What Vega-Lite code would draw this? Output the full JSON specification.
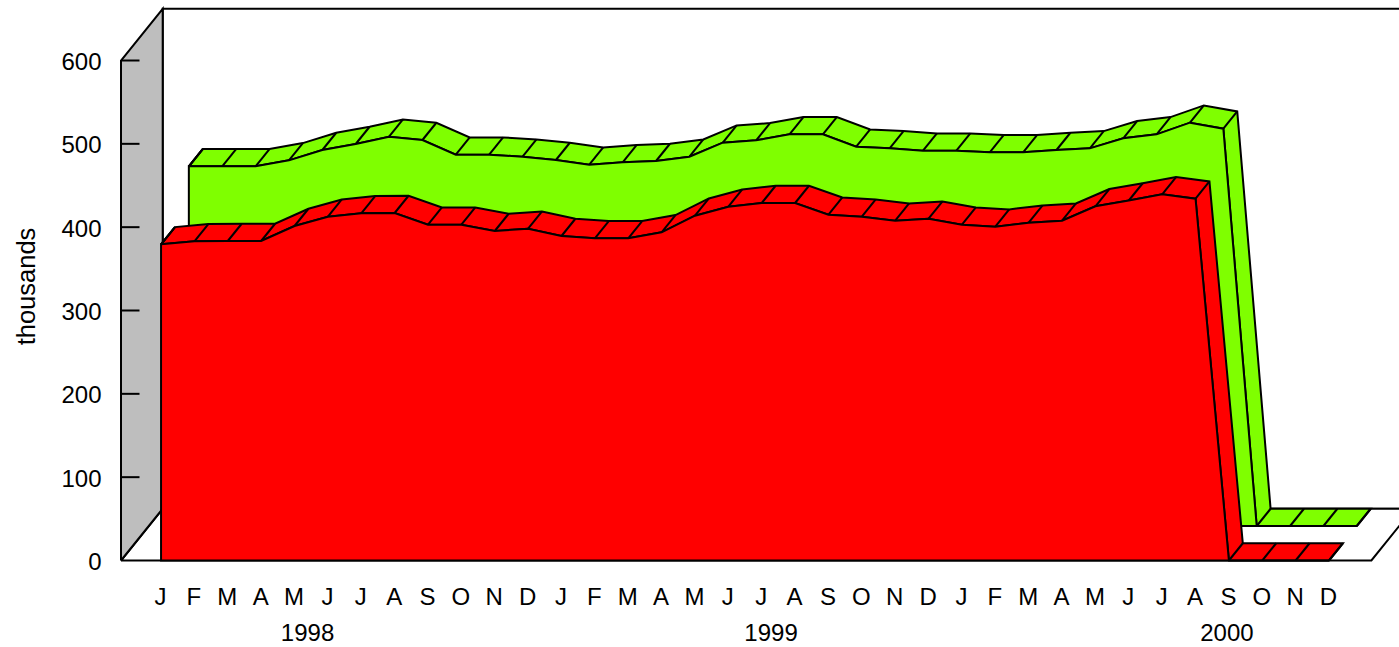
{"$schema":"https://vega.github.io/schema/vega-lite/v6.json","autosize":{"type":"none"},"width":1278,"height":500,"padding":{"left":121,"top":60.5,"right":0,"bottom":86.5},"background":"white","config":{"view":{"stroke":null},"font":"Liberation Sans"},
"datasets":{
"frame":[{"s":"back","d":3,"m":-1.2,"v":0},{"s":"back","d":3,"m":-1.2,"v":600},{"s":"back","d":3,"m":36.27,"v":600},{"s":"back","d":3,"m":36.27,"v":0},{"s":"back","d":3,"m":-1.2,"v":0},{"s":"floor","d":0,"m":-1.2,"v":0},{"s":"floor","d":0,"m":36.27,"v":0},{"s":"floor","d":3,"m":36.27,"v":0},{"s":"floor","d":3,"m":-1.2,"v":0},{"s":"floor","d":0,"m":-1.2,"v":0}],
"wall":[{"s":"wall","d":0,"m":-1.2,"v":0},{"s":"wall","d":0,"m":-1.2,"v":600},{"s":"wall","d":3,"m":-1.2,"v":600},{"s":"wall","d":3,"m":-1.2,"v":0},{"s":"wall","d":0,"m":-1.2,"v":0}],
"ticks":[{"m":-1.2,"v":100},{"m":-1.2,"v":200},{"m":-1.2,"v":300},{"m":-1.2,"v":400},{"m":-1.2,"v":500},{"m":-1.2,"v":600}],
"green":[{"d":2,"m":0,"v":431.6},{"d":2,"m":1,"v":431.6},{"d":2,"m":2,"v":431.6},{"d":2,"m":3,"v":438.8},{"d":2,"m":4,"v":451.2},{"d":2,"m":5,"v":458.4},{"d":2,"m":6,"v":467.2},{"d":2,"m":7,"v":463.2},{"d":2,"m":8,"v":445.6},{"d":2,"m":9,"v":445.6},{"d":2,"m":10,"v":443.2},{"d":2,"m":11,"v":439.2},{"d":2,"m":12,"v":433.6},{"d":2,"m":13,"v":436.4},{"d":2,"m":14,"v":438},{"d":2,"m":15,"v":443.2},{"d":2,"m":16,"v":460},{"d":2,"m":17,"v":462.8},{"d":2,"m":18,"v":470},{"d":2,"m":19,"v":470},{"d":2,"m":20,"v":455.2},{"d":2,"m":21,"v":453.2},{"d":2,"m":22,"v":450.4},{"d":2,"m":23,"v":450.4},{"d":2,"m":24,"v":448.4},{"d":2,"m":25,"v":448.4},{"d":2,"m":26,"v":451.2},{"d":2,"m":27,"v":453.2},{"d":2,"m":28,"v":465.2},{"d":2,"m":29,"v":470},{"d":2,"m":30,"v":484},{"d":2,"m":31,"v":476.8},{"d":2,"m":32,"v":0},{"d":2,"m":33,"v":0},{"d":2,"m":34,"v":0},{"d":2,"m":35,"v":0},
{"d":3,"m":35,"v":0},{"d":3,"m":34,"v":0},{"d":3,"m":33,"v":0},{"d":3,"m":32,"v":0},{"d":3,"m":31,"v":476.8},{"d":3,"m":30,"v":484},{"d":3,"m":29,"v":470},{"d":3,"m":28,"v":465.2},{"d":3,"m":27,"v":453.2},{"d":3,"m":26,"v":451.2},{"d":3,"m":25,"v":448.4},{"d":3,"m":24,"v":448.4},{"d":3,"m":23,"v":450.4},{"d":3,"m":22,"v":450.4},{"d":3,"m":21,"v":453.2},{"d":3,"m":20,"v":455.2},{"d":3,"m":19,"v":470},{"d":3,"m":18,"v":470},{"d":3,"m":17,"v":462.8},{"d":3,"m":16,"v":460},{"d":3,"m":15,"v":443.2},{"d":3,"m":14,"v":438},{"d":3,"m":13,"v":436.4},{"d":3,"m":12,"v":433.6},{"d":3,"m":11,"v":439.2},{"d":3,"m":10,"v":443.2},{"d":3,"m":9,"v":445.6},{"d":3,"m":8,"v":445.6},{"d":3,"m":7,"v":463.2},{"d":3,"m":6,"v":467.2},{"d":3,"m":5,"v":458.4},{"d":3,"m":4,"v":451.2},{"d":3,"m":3,"v":438.8},{"d":3,"m":2,"v":431.6},{"d":3,"m":1,"v":431.6},{"d":3,"m":0,"v":431.6},{"d":2,"m":0,"v":431.6}],
"red":[{"d":0,"m":0,"v":379.4},{"d":0,"m":1,"v":383},{"d":0,"m":2,"v":383.4},{"d":0,"m":3,"v":383.4},{"d":0,"m":4,"v":401.4},{"d":0,"m":5,"v":412.6},{"d":0,"m":6,"v":416.6},{"d":0,"m":7,"v":417},{"d":0,"m":8,"v":403},{"d":0,"m":9,"v":403},{"d":0,"m":10,"v":395.4},{"d":0,"m":11,"v":398.2},{"d":0,"m":12,"v":389.4},{"d":0,"m":13,"v":386.6},{"d":0,"m":14,"v":386.6},{"d":0,"m":15,"v":393.8},{"d":0,"m":16,"v":413.8},{"d":0,"m":17,"v":424.6},{"d":0,"m":18,"v":429},{"d":0,"m":19,"v":429},{"d":0,"m":20,"v":415},{"d":0,"m":21,"v":412.6},{"d":0,"m":22,"v":407.8},{"d":0,"m":23,"v":410.2},{"d":0,"m":24,"v":403},{"d":0,"m":25,"v":400.6},{"d":0,"m":26,"v":405.4},{"d":0,"m":27,"v":407.8},{"d":0,"m":28,"v":425},{"d":0,"m":29,"v":432},{"d":0,"m":30,"v":439.4},{"d":0,"m":31,"v":434.2},{"d":0,"m":32,"v":0},{"d":0,"m":33,"v":0},{"d":0,"m":34,"v":0},{"d":0,"m":35,"v":0},
{"d":1,"m":35,"v":0},{"d":1,"m":34,"v":0},{"d":1,"m":33,"v":0},{"d":1,"m":32,"v":0},{"d":1,"m":31,"v":434.2},{"d":1,"m":30,"v":439.4},{"d":1,"m":29,"v":432},{"d":1,"m":28,"v":425},{"d":1,"m":27,"v":407.8},{"d":1,"m":26,"v":405.4},{"d":1,"m":25,"v":400.6},{"d":1,"m":24,"v":403},{"d":1,"m":23,"v":410.2},{"d":1,"m":22,"v":407.8},{"d":1,"m":21,"v":412.6},{"d":1,"m":20,"v":415},{"d":1,"m":19,"v":429},{"d":1,"m":18,"v":429},{"d":1,"m":17,"v":424.6},{"d":1,"m":16,"v":413.8},{"d":1,"m":15,"v":393.8},{"d":1,"m":14,"v":386.6},{"d":1,"m":13,"v":386.6},{"d":1,"m":12,"v":389.4},{"d":1,"m":11,"v":398.2},{"d":1,"m":10,"v":395.4},{"d":1,"m":9,"v":403},{"d":1,"m":8,"v":403},{"d":1,"m":7,"v":417},{"d":1,"m":6,"v":416.6},{"d":1,"m":5,"v":412.6},{"d":1,"m":4,"v":401.4},{"d":1,"m":3,"v":383.4},{"d":1,"m":2,"v":383.4},{"d":1,"m":1,"v":383},{"d":1,"m":0,"v":379.4},{"d":0,"m":0,"v":379.4}],
"years":[{"m":4.39,"v":0,"label":"1998"},{"m":18.28,"v":0,"label":"1999"},{"m":31.94,"v":0,"label":"2000"}]
},
"encoding":{
"x":{"field":"m","type":"quantitative","scale":{"domain":[-1.2,37.097],"nice":false,"zero":false},"axis":{"title":null,"grid":false,"domain":false,"ticks":false,"values":[0,1,2,3,4,5,6,7,8,9,10,11,12,13,14,15,16,17,18,19,20,21,22,23,24,25,26,27,28,29,30,31,32,33,34,35],"labelExpr":"['J','F','M','A','M','J','J','A','S','O','N','D'][datum.value%12]","labelFontSize":24,"labelColor":"black","labelPadding":25,"labelOffset":-1,"labelOverlap":false,"labelFlush":false,"labelFont":"Liberation Sans"}},
"y":{"field":"v","type":"quantitative","scale":{"domain":[0,600],"nice":false},"axis":{"title":"thousands","titleFontSize":25.5,"titleFontWeight":"normal","titleColor":"black","titleFont":"Liberation Sans","titleBaseline":"alphabetic","titleX":-86.5,"titleY":225.5,"grid":false,"domain":false,"ticks":false,"values":[0,100,200,300,400,500,600],"labelFontSize":24,"labelColor":"black","labelPadding":20,"labelOffset":2,"labelFont":"Liberation Sans"}}
},
"layer":[
{"data":{"name":"frame"},"mark":{"type":"line","fill":"white","stroke":"black","strokeWidth":2,"xOffset":{"expr":"datum.d*13.9"},"yOffset":{"expr":"datum.d*-17.25"}},"encoding":{"detail":{"field":"s"},"order":{"value":null}}},
{"data":{"name":"wall"},"mark":{"type":"line","fill":"#bebebe","stroke":"black","strokeWidth":2,"xOffset":{"expr":"datum.d*13.9"},"yOffset":{"expr":"datum.d*-17.25"}},"encoding":{"order":{"value":null}}},
{"data":{"name":"ticks"},"mark":{"type":"rule","stroke":"black","strokeWidth":2,"x2Offset":18.5,"y2Offset":0},"encoding":{"x2":{"field":"m"},"y2":{"field":"v"}}},
{"data":{"name":"green"},"mark":{"type":"line","fill":"#7fff00","stroke":"black","strokeWidth":2,"xOffset":{"expr":"datum.d*13.9"},"yOffset":{"expr":"datum.d*-17.25"}},"encoding":{"order":{"value":null}}},
{"data":{"name":"green"},"transform":[{"filter":"datum.d==2"}],"mark":{"type":"rule","stroke":"black","strokeWidth":2,"xOffset":27.8,"yOffset":-34.5,"x2Offset":41.7,"y2Offset":-51.75},"encoding":{"x2":{"field":"m"},"y2":{"field":"v"}}},
{"data":{"name":"green"},"transform":[{"filter":"datum.d==2"}],"mark":{"type":"area","orient":"vertical","fill":"#7fff00","stroke":"black","strokeWidth":2,"xOffset":27.8,"yOffset":-34.5,"y2Offset":-34.5},"encoding":{"y2":{"datum":0}}},
{"data":{"name":"red"},"mark":{"type":"line","fill":"#ff0000","stroke":"black","strokeWidth":2,"xOffset":{"expr":"datum.d*13.9"},"yOffset":{"expr":"datum.d*-17.25"}},"encoding":{"order":{"value":null}}},
{"data":{"name":"red"},"transform":[{"filter":"datum.d==0"}],"mark":{"type":"rule","stroke":"black","strokeWidth":2,"x2Offset":13.9,"y2Offset":-17.25},"encoding":{"x2":{"field":"m"},"y2":{"field":"v"}}},
{"data":{"name":"red"},"transform":[{"filter":"datum.d==0"}],"mark":{"type":"area","orient":"vertical","fill":"#ff0000","stroke":"black","strokeWidth":2},"encoding":{"y2":{"datum":0}}},
{"data":{"name":"years"},"mark":{"type":"text","fontSize":24,"font":"Liberation Sans","color":"black","baseline":"middle","align":"center","yOffset":73},"encoding":{"text":{"field":"label"}}}
]}
